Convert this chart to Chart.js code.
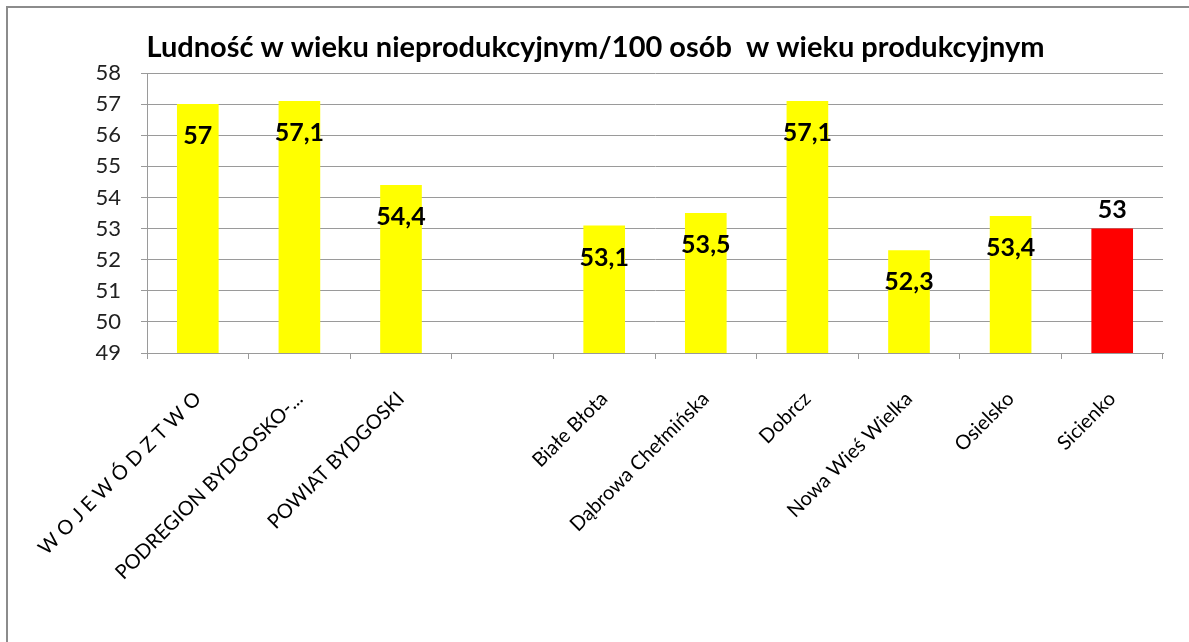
<!DOCTYPE html>
<html>
<head>
<meta charset="utf-8">
<script src="https://cdn.jsdelivr.net/npm/chart.js@4/dist/chart.umd.min.js"></script>
<style>
html,body{margin:0;padding:0;background:#fff;}
#wrap{position:relative;width:1189px;height:642px;overflow:hidden;}
#frame{position:absolute;left:6px;top:6px;width:1300px;height:800px;border-left:2px solid #8c8c8c;border-top:2px solid #8c8c8c;}
canvas{position:absolute;left:0;top:0;}
</style>
</head>
<body>
<div id="wrap">
<div id="frame"></div>
<canvas id="c" width="1189" height="642"></canvas>
</div>
<script>
const titleText = 'Ludność w wieku nieprodukcyjnym/100 osób  w wieku produkcyjnym';
const categories = ['W O J E W Ó D Z T W O', 'PODREGION BYDGOSKO-...', 'POWIAT BYDGOSKI', '', 'Białe Błota', 'Dąbrowa Chełmińska', 'Dobrcz', 'Nowa Wieś Wielka', 'Osielsko', 'Sicienko'];
const values = [57, 57.1, 54.4, null, 53.1, 53.5, 57.1, 52.3, 53.4, 53];
const barColors = ['#FFFF00','#FFFF00','#FFFF00','#FFFF00','#FFFF00','#FFFF00','#FFFF00','#FFFF00','#FFFF00','#FF0000'];
const labelInside = [true, true, true, true, true, true, true, true, true, false];
const yMin = 49, yMax = 58, yStep = 1;

const FONT = 'Lato, "Open Sans", sans-serif';

const titleDraw = {
  id: 'titleDraw',
  afterDraw(chart) {
    const ctx = chart.ctx;
    ctx.save();
    ctx.font = 'bold 29px ' + FONT;
    ctx.fillStyle = '#000';
    ctx.textAlign = 'center';
    ctx.textBaseline = 'middle';
    ctx.fillText(titleText, chart.width / 2 + 1, 48);
    ctx.restore();
  }
};

const valueLabels = {
  id: 'valueLabels',
  afterDatasetsDraw(chart) {
    const ctx = chart.ctx;
    const meta = chart.getDatasetMeta(0);
    ctx.save();
    ctx.font = 'bold 25px ' + FONT;
    ctx.fillStyle = '#000';
    ctx.textAlign = 'center';
    ctx.textBaseline = 'middle';
    meta.data.forEach((bar, i) => {
      const v = values[i];
      if (v === null || v === undefined) return;
      const txt = String(v).replace('.', ',');
      const y = labelInside[i] ? bar.y + 32 : bar.y - 19;
      ctx.fillText(txt, bar.x, y);
    });
    ctx.restore();
  }
};

new Chart(document.getElementById('c'), {
  type: 'bar',
  data: {
    labels: categories,
    datasets: [{
      data: values,
      backgroundColor: barColors,
      borderWidth: 0,
      barPercentage: 0.41,
      categoryPercentage: 1.0
    }]
  },
  options: {
    responsive: false,
    animation: false,
    events: [],
    layout: { padding: { left: 0, right: 26, top: 73, bottom: 0 } },
    plugins: {
      legend: { display: false },
      tooltip: { enabled: false },
      title: { display: false }
    },
    scales: {
      x: {
        offset: true,
        grid: { display: true, offset: true, drawOnChartArea: false, drawTicks: true, tickLength: 6, color: '#9a9a9a', lineWidth: 1 },
        border: { display: true, color: '#9a9a9a', width: 1 },
        ticks: {
          autoSkip: false,
          minRotation: 45,
          maxRotation: 45,
          padding: 28,
          color: '#000',
          font: { family: FONT, size: 20 }
        },
        afterFit(scale) { scale.height = 289; }
      },
      y: {
        min: yMin,
        max: yMax,
        ticks: { stepSize: yStep, color: '#222', padding: 20, font: { family: FONT, size: 22 } },
        grid: { color: '#9a9a9a', lineWidth: 1, drawTicks: true, tickLength: 6 },
        border: { display: true, color: '#9a9a9a', width: 1 },
        afterFit(scale) { scale.width = 147; }
      }
    }
  },
  plugins: [valueLabels, titleDraw]
});
</script>
</body>
</html>
